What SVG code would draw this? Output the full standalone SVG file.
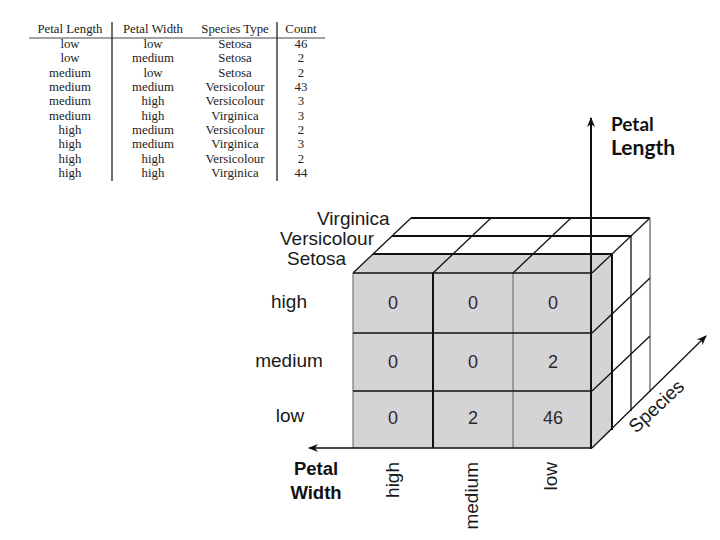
<svg xmlns="http://www.w3.org/2000/svg" width="720" height="540" viewBox="0 0 720 540">
<style>
.tb{font-family:"Liberation Serif",serif;font-size:12.8px;fill:#222;text-anchor:middle}
.lb{font-family:"Liberation Sans",Arial,sans-serif;font-size:19px;fill:#1a1a1a}
.num{font-family:"Liberation Sans",Arial,sans-serif;font-size:18px;fill:#2a2a2a;text-anchor:middle}
.ax{font-family:"Liberation Sans",Arial,sans-serif;font-size:18.5px;font-weight:bold;fill:#111;text-anchor:middle}
.pl{font-family:Lato,"Open Sans",sans-serif;font-weight:bold;fill:#111}
.k{stroke:#111;fill:none}
.g{fill:#d4d4d6}
</style>
<defs>
<marker id="ah" viewBox="0 0 10 10" refX="9" refY="5" markerWidth="10" markerHeight="10" markerUnits="userSpaceOnUse" orient="auto">
<path d="M0,1 L10,5 L0,9 L3,5 Z" fill="#111"/>
</marker>
</defs>
<rect width="720" height="540" fill="#fff"/>

<g id="table">
<line x1="29" y1="38" x2="325" y2="38" stroke="#444" stroke-width="1"/>
<line x1="112" y1="22" x2="112" y2="181" stroke="#222" stroke-width="1.3"/>
<line x1="277" y1="22" x2="277" y2="181" stroke="#222" stroke-width="1.3"/>
<text class="tb" x="70" y="33">Petal Length</text>
<text class="tb" x="153" y="33">Petal Width</text>
<text class="tb" x="235" y="33">Species Type</text>
<text class="tb" x="301" y="33">Count</text>
<g>
<text class="tb" x="70" y="48">low</text><text class="tb" x="153" y="48">low</text><text class="tb" x="235" y="48">Setosa</text><text class="tb" x="301" y="48">46</text>
<text class="tb" x="70" y="62.3">low</text><text class="tb" x="153" y="62.3">medium</text><text class="tb" x="235" y="62.3">Setosa</text><text class="tb" x="301" y="62.3">2</text>
<text class="tb" x="70" y="76.7">medium</text><text class="tb" x="153" y="76.7">low</text><text class="tb" x="235" y="76.7">Setosa</text><text class="tb" x="301" y="76.7">2</text>
<text class="tb" x="70" y="91">medium</text><text class="tb" x="153" y="91">medium</text><text class="tb" x="235" y="91">Versicolour</text><text class="tb" x="301" y="91">43</text>
<text class="tb" x="70" y="105.3">medium</text><text class="tb" x="153" y="105.3">high</text><text class="tb" x="235" y="105.3">Versicolour</text><text class="tb" x="301" y="105.3">3</text>
<text class="tb" x="70" y="119.7">medium</text><text class="tb" x="153" y="119.7">high</text><text class="tb" x="235" y="119.7">Virginica</text><text class="tb" x="301" y="119.7">3</text>
<text class="tb" x="70" y="134">high</text><text class="tb" x="153" y="134">medium</text><text class="tb" x="235" y="134">Versicolour</text><text class="tb" x="301" y="134">2</text>
<text class="tb" x="70" y="148.3">high</text><text class="tb" x="153" y="148.3">medium</text><text class="tb" x="235" y="148.3">Virginica</text><text class="tb" x="301" y="148.3">3</text>
<text class="tb" x="70" y="162.7">high</text><text class="tb" x="153" y="162.7">high</text><text class="tb" x="235" y="162.7">Versicolour</text><text class="tb" x="301" y="162.7">2</text>
<text class="tb" x="70" y="177">high</text><text class="tb" x="153" y="177">high</text><text class="tb" x="235" y="177">Virginica</text><text class="tb" x="301" y="177">44</text>
</g>
</g>

<g id="cube">
<rect class="g" x="353" y="273" width="239" height="175"/>
<polygon class="g" points="353,273 373,254 612,254 592,273"/>
<polygon class="g" points="592,273 612,254 612,430 592,448"/>
<line x1="353" y1="273" x2="353" y2="448" stroke="#777" stroke-width="1.2"/>
<line x1="433" y1="273" x2="433" y2="448" stroke="#111" stroke-width="2"/>
<line x1="513" y1="273" x2="513" y2="448" stroke="#888" stroke-width="1.5"/>
<line x1="353" y1="273" x2="592" y2="273" stroke="#111" stroke-width="1.5"/>
<line x1="353" y1="333" x2="592" y2="333" stroke="#111" stroke-width="1.3"/>
<line x1="353" y1="391" x2="592" y2="391" stroke="#111" stroke-width="1.3"/>
<g class="k" stroke-width="1.3">
<line x1="373" y1="254" x2="612" y2="254" stroke-width="2"/>
<line x1="392" y1="236" x2="631" y2="236" stroke-width="2"/>
<line x1="411" y1="218" x2="650" y2="218" stroke-width="2"/>
<line x1="353" y1="273" x2="411" y2="218"/>
<line x1="433" y1="273" x2="491" y2="218"/>
<line x1="513" y1="273" x2="571" y2="218"/>
<line x1="592" y1="273" x2="650" y2="218"/>
<line x1="612" y1="254" x2="612" y2="430" stroke-width="2"/>
<line x1="631" y1="236" x2="631" y2="411"/>
<line x1="650" y1="218" x2="650" y2="392" stroke="#666"/>
<line x1="592" y1="333" x2="650" y2="278"/>
<line x1="592" y1="391" x2="650" y2="336"/>
</g>
</g>

<g id="cells">
<text class="num" x="393" y="309">0</text>
<text class="num" x="473" y="309">0</text>
<text class="num" x="553" y="309">0</text>
<text class="num" x="393" y="368">0</text>
<text class="num" x="473" y="368">0</text>
<text class="num" x="553" y="368">2</text>
<text class="num" x="393" y="424">0</text>
<text class="num" x="473" y="424">2</text>
<text class="num" x="553" y="424">46</text>
</g>

<g id="connectors">
<line x1="591" y1="449" x2="591" y2="118" stroke="#111" stroke-width="2" marker-end="url(#ah)"/>
<line x1="592" y1="448" x2="309" y2="448" stroke="#111" stroke-width="1.6" marker-end="url(#ah)"/>
<line x1="592" y1="448" x2="706" y2="336" stroke="#111" stroke-width="1.3" marker-end="url(#ah)"/>
</g>

<g id="labels">
<text class="lb" x="317" y="225">Virginica</text>
<text class="lb" x="280" y="245">Versicolour</text>
<text class="lb" x="287" y="265">Setosa</text>
<text class="lb" x="289" y="308" text-anchor="middle">high</text>
<text class="lb" x="289" y="367" text-anchor="middle">medium</text>
<text class="lb" x="290" y="422" text-anchor="middle">low</text>
<text class="lb" text-anchor="end" transform="translate(399,462) rotate(-90)">high</text>
<text class="lb" text-anchor="end" transform="translate(478,462) rotate(-90)">medium</text>
<text class="lb" text-anchor="end" transform="translate(557,462) rotate(-90)">low</text>
<text class="ax" x="316" y="475">Petal</text>
<text class="ax" x="316" y="499">Width</text>
<text class="pl" x="611" y="131" font-size="19">Petal</text>
<text class="pl" x="611" y="155" font-size="21">Length</text>
<text class="lb" font-size="23" transform="translate(636,434) rotate(-43)">Species</text>
</g>
</svg>
